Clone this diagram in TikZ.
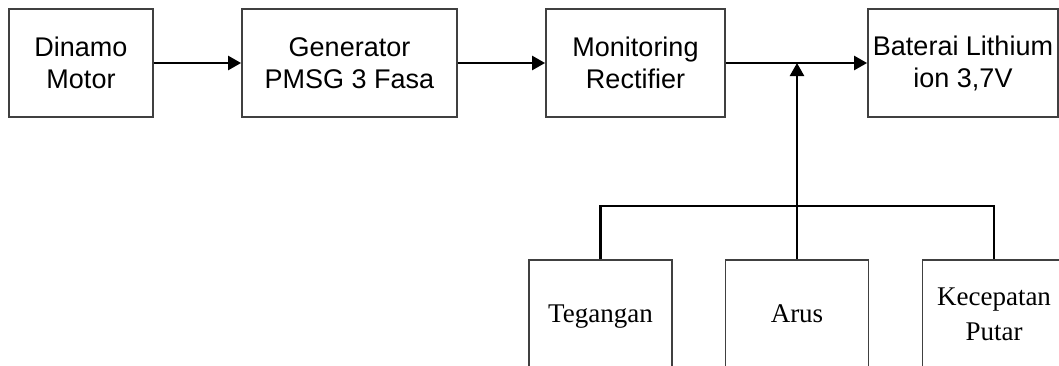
\documentclass[tikz,border=0pt]{standalone}
\usepackage{fontspec}
\setmainfont{Liberation Serif}
\setsansfont{Liberation Sans}
\usetikzlibrary{arrows.meta}
\tikzset{
  topbox/.style={draw=black!75, line width=1.8pt, minimum height=108pt, inner sep=0pt,
    align=center, font=\sffamily\fontsize{27}{32}\selectfont},
  lowbox/.style={draw=black!75, line width=1.8pt, minimum height=108pt, minimum width=143pt,
    inner sep=0pt, align=center, font=\rmfamily\fontsize{27}{35}\selectfont},
  oneline/.style={text depth=0pt},
  wire/.style={line width=2.4pt},
  feed/.style={wire, -{Triangle[length=13pt,width=14pt]}}
}

\begin{document}
\begin{tikzpicture}[x=1pt,y=-1pt]
\useasboundingbox (0,0) rectangle (1059,365);
\clip (0,0) rectangle (1059,365);
\node[topbox, minimum width=144pt] (dinamo) at (81,63) {Dinamo\\Motor};
\node[topbox, minimum width=215pt] (gen) at (349.5,63) {Generator\\PMSG 3 Fasa};
\node[topbox, minimum width=179pt] (mon) at (635.5,63) {Monitoring\\Rectifier};
\node[topbox, minimum width=190pt] (bat) at (963,63) {Baterai Lithium\\ion 3,7V};
\node[lowbox, oneline] (teg) at (600.5,314) {Tegangan};
\node[lowbox, oneline] (arus) at (797,314) {Arus};
\node[lowbox] (kec) at (994,314) {Kecepatan\\Putar};
\coordinate (join) at (797,63);
\coordinate (split) at (797,206);
\draw[feed] (dinamo) -- (gen);
\draw[feed] (gen) -- (mon);
\draw[feed] (mon) -- (bat);
\draw[feed] (split) -- (join);
\draw[wire] (teg.north) |- (split) -| (kec.north);
\draw[wire] (arus.north) -- (split);
\end{tikzpicture}
\end{document}
